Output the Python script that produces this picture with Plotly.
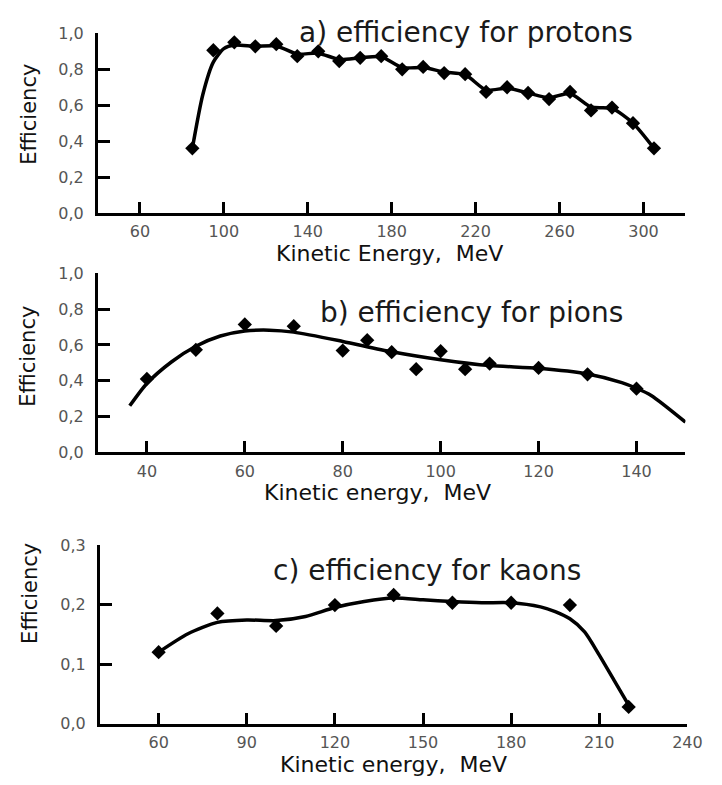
import plotly.graph_objects as go

W, H = 722, 785

# ---------------- data ----------------
# a) protons
proton_E = [85, 95, 105, 115, 125, 135, 145, 155, 165, 175, 185, 195,
            205, 215, 225, 235, 245, 255, 265, 275, 285, 295, 305]
proton_eff = [0.36, 0.906, 0.95, 0.928, 0.94, 0.873, 0.90, 0.846, 0.864, 0.873,
              0.80, 0.813, 0.779, 0.773, 0.674, 0.70, 0.668, 0.634, 0.674,
              0.571, 0.587, 0.50, 0.36]
proton_curve_E = [85, 90, 95, 100, 105, 115, 125, 135, 145, 155, 165, 175, 185,
                  195, 205, 215, 225, 235, 245, 255, 265, 275, 285, 295, 305]
proton_curve_eff = [0.36, 0.66, 0.84, 0.915, 0.935, 0.928, 0.93, 0.885, 0.89, 0.855,
                    0.864, 0.87, 0.81, 0.81, 0.785, 0.77, 0.685, 0.695, 0.668,
                    0.642, 0.665, 0.59, 0.582, 0.50, 0.36]

# b) pions
pion_E = [40, 50, 60, 70, 80, 85, 90, 95, 100, 105, 110, 120, 130, 140]
pion_eff = [0.41, 0.573, 0.715, 0.705, 0.569, 0.627, 0.56, 0.465, 0.565,
            0.465, 0.496, 0.472, 0.436, 0.356]
pion_curve_E = [36.5, 40, 45, 50, 55, 60, 65, 70, 80, 90, 100, 110, 120,
                130, 137, 140, 143, 150]
pion_curve_eff = [0.26, 0.385, 0.505, 0.593, 0.65, 0.678, 0.683, 0.672, 0.62,
                  0.562, 0.518, 0.485, 0.47, 0.438, 0.39, 0.358, 0.318, 0.169]

# c) kaons
kaon_E = [60, 80, 100, 120, 140, 160, 180, 200, 220]
kaon_eff = [0.12, 0.185, 0.164, 0.199, 0.216, 0.203, 0.203, 0.199, 0.028]
kaon_curve_E = [60, 70, 80, 90, 100, 110, 120, 130, 140, 150, 160, 170, 180,
                190, 195, 200, 205, 210, 215, 220]
kaon_curve_eff = [0.12, 0.151, 0.17, 0.174, 0.173, 0.18, 0.195, 0.205, 0.211,
                  0.208, 0.205, 0.203, 0.203, 0.196, 0.188, 0.176, 0.154,
                  0.115, 0.073, 0.031]

# tick labels
ya_vals = [0.0, 0.2, 0.4, 0.6, 0.8, 1.0]
ya_text = ["0,0", "0,2", "0,4", "0,6", "0,8", "1,0"]
yc_vals = [0.0, 0.1, 0.2, 0.3]
yc_text = ["0,0", "0,1", "0,2", "0,3"]
xa_vals = [60, 100, 140, 180, 220, 260, 300]
xb_vals = [40, 60, 80, 100, 120, 140]
xc_vals = [60, 90, 120, 150, 180, 210, 240]

titles = ["a) efficiency for protons", "b) efficiency for pions",
          "c) efficiency for kaons"]
xtitles = ["Kinetic Energy,  MeV", "Kinetic energy,  MeV", "Kinetic energy,  MeV"]
ytitle = "Efficiency"

# ---------------- figure ----------------
FONT = "DejaVu Sans"
fig = go.Figure()

def add_panel(k, xe, ye, xc, yc):
    xa = "x" if k == 1 else f"x{k}"
    ya = "y" if k == 1 else f"y{k}"
    fig.add_trace(go.Scatter(x=xc, y=yc, mode="lines", xaxis=xa, yaxis=ya,
                             line=dict(color="black", width=3.5, shape="spline",
                                       smoothing=0.7),
                             hoverinfo="skip", showlegend=False))
    fig.add_trace(go.Scatter(x=xe, y=ye, mode="markers", xaxis=xa, yaxis=ya,
                             marker=dict(symbol="diamond", size=11, color="black"),
                             cliponaxis=False, showlegend=False))

add_panel(1, proton_E, proton_eff, proton_curve_E, proton_curve_eff)
add_panel(2, pion_E, pion_eff, pion_curve_E, pion_curve_eff)
add_panel(3, kaon_E, kaon_eff, kaon_curve_E, kaon_curve_eff)

def px(v):
    return v / W

def py(v):
    return 1 - v / H

tickfont = dict(family=FONT, size=16, color="#555555")

def xaxis(dom, rng, vals, anchor):
    return dict(domain=dom, range=rng, tickvals=vals, ticktext=[str(v) for v in vals],
                showline=True, linecolor="black", linewidth=3, ticks="inside",
                ticklen=11, tickwidth=2.5, tickcolor="black", showgrid=False,
                zeroline=False, tickfont=tickfont, anchor=anchor, fixedrange=True,
                ticklabelstandoff=2)

def yaxis(dom, rng, vals, text, anchor):
    return dict(domain=dom, range=rng, tickvals=vals, ticktext=text,
                showline=True, linecolor="black", linewidth=3, ticks="inside",
                ticklen=12, tickwidth=2.5, tickcolor="black", showgrid=False,
                zeroline=False, tickfont=tickfont, anchor=anchor, fixedrange=True,
                ticklabelstandoff=8)

xdom = [px(100), px(700)]
xdom_c = [px(102), px(702)]
ydom_a = [py(209), py(25)]
ydom_b = [py(454.3), py(271)]
ydom_c = [py(732.3), py(549.3)]

annotations = []
# panel titles
for (cx, cy), t in zip([(476, 24), (481, 311), (436, 575)], titles):
    annotations.append(dict(text=t, x=px(cx), y=py(cy), xref="paper", yref="paper",
                            xanchor="center", yanchor="middle", showarrow=False,
                            font=dict(family=FONT, size=28, color="#1a1a1a")))
# x-axis titles
for (cx, cy), t in zip([(398, 251), (386, 496), (402, 774)], xtitles):
    annotations.append(dict(text=t, x=px(cx), y=py(cy), xref="paper", yref="paper",
                            xanchor="center", yanchor="middle", showarrow=False,
                            font=dict(family=FONT, size=22, color="#111111")))
# y-axis titles
for cx, cy in [(30, 108), (29, 356), (30, 599)]:
    annotations.append(dict(text=ytitle, x=px(cx), y=py(cy), xref="paper", yref="paper",
                            xanchor="center", yanchor="middle", showarrow=False,
                            textangle=-90,
                            font=dict(family=FONT, size=21, color="#111111")))

fig.update_layout(
    width=W, height=H,
    margin=dict(l=0, r=0, t=0, b=0),
    paper_bgcolor="white", plot_bgcolor="white",
    showlegend=False,
    xaxis=xaxis(xdom, [40, 320], xa_vals, "y"),
    yaxis=yaxis(ydom_a, [0, 1.0], ya_vals, ya_text, "x"),
    xaxis2=xaxis(xdom, [30, 150], xb_vals, "y2"),
    yaxis2=yaxis(ydom_b, [0, 1.0], ya_vals, ya_text, "x2"),
    xaxis3=xaxis(xdom_c, [40, 240], xc_vals, "y3"),
    yaxis3=yaxis(ydom_c, [0, 0.3], yc_vals, yc_text, "x3"),
    annotations=annotations,
)

fig.write_html("out.html")
